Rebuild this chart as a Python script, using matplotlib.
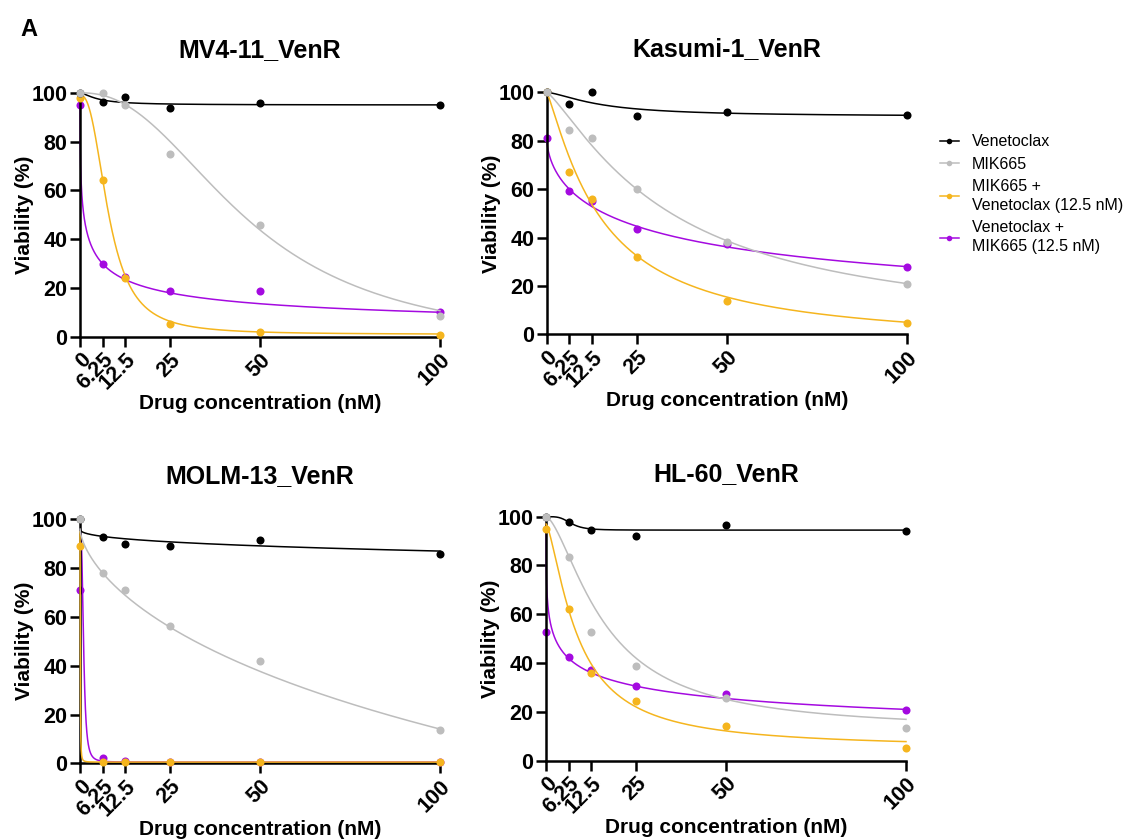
import numpy as np
import matplotlib
matplotlib.use("Agg")
import matplotlib.pyplot as plt
from matplotlib.lines import Line2D

plt.rcParams['font.family'] = ['Liberation Sans', 'DejaVu Sans']

# doses (nM)
doses = [0, 6.25, 12.5, 25, 50, 100]
dose_labels = ['0', '6.25', '12.5', '25', '50', '100']

series_names = ['Venetoclax', 'MIK665', 'MIK665 +\nVenetoclax (12.5 nM)', 'Venetoclax +\nMIK665 (12.5 nM)']
series_colors = ['#000000', '#BDBDBD', '#F5B51E', '#A40AE0']
series_z = [4, 5, 3, 2]

panels = ['MV4-11_VenR', 'Kasumi-1_VenR', 'MOLM-13_VenR', 'HL-60_VenR']

# viability (%) per panel, one list per series
mv4_ven = [100, 96.3, 98.1, 93.6, 95.9, 95.2]
mv4_mik = [100, 100, 95.2, 75.1, 45.9, 8.5]
mv4_mik_ven = [98.0, 64.4, 24.0, 5.2, 1.8, 0.7]
mv4_ven_mik = [95.2, 30.0, 24.5, 18.9, 18.9, 10.0]

kas_ven = [100, 95.2, 100, 90.4, 92.0, 90.6]
kas_mik = [100, 84.4, 81.0, 60.0, 38.3, 20.8]
kas_mik_ven = [100, 67.0, 56.1, 32.0, 13.8, 4.7]
kas_ven_mik = [81.3, 59.4, 55.0, 43.5, 37.2, 27.8]

molm_ven = [100, 92.6, 89.8, 89.1, 91.5, 85.7]
molm_mik = [100, 77.9, 71.0, 56.4, 41.8, 13.7]
molm_mik_ven = [89.1, 0.7, 0.6, 0.5, 0.5, 0.5]
molm_ven_mik = [71.0, 2.0, 0.8, 0.5, 0.5, 0.5]

hl_ven = [100, 98.0, 94.5, 92.2, 96.7, 94.1]
hl_mik = [100, 83.3, 52.6, 38.8, 25.5, 13.3]
hl_mik_ven = [94.8, 62.2, 35.8, 24.3, 14.2, 5.3]
hl_ven_mik = [52.6, 42.3, 37.0, 30.7, 27.5, 20.6]

data = [
    [mv4_ven, mv4_mik, mv4_mik_ven, mv4_ven_mik],
    [kas_ven, kas_mik, kas_mik_ven, kas_ven_mik],
    [molm_ven, molm_mik, molm_mik_ven, molm_ven_mik],
    [hl_ven, hl_mik, hl_mik_ven, hl_ven_mik],
]

# fitted dose-response parameters (top, bottom, EC50, hill) per series
fits = [
    [(100, 95, 5, 1.5), (100, -5, 47, 2.3), (99, 1, 8, 2.5), (95, 0, 1.29, 0.49)],
    [(100, 90, 15, 1.5), (100, 0, 34.6, 1.25), (100, -5, 15.3, 1.2), (81, 0, 35.1, 0.61)],
    [(96, 0, 22000, 0.42), (96, -200, 446, 0.642), (95, 0.5, 0.08, 2), (96, 0.5, 1.0, 3)],
    [(100, 94.5, 7, 4), (100, 12, 16.4, 1.56), (97, 5, 8.8, 1.42), (97, 0, 2.99, 0.366)],
]

positions = [
    [0.071, 0.599, 0.3194, 0.2905],
    [0.4851, 0.602, 0.3194, 0.288],
    [0.071, 0.0913, 0.3194, 0.2905],
    [0.4845, 0.0944, 0.3194, 0.2905],
]


def hill(x, top, bottom, ec50, h):
    return bottom + (top - bottom) / (1 + (x / ec50) ** h)


fig = plt.figure(figsize=(11.27, 8.4), dpi=100)
xs = np.linspace(0, 100, 2001)

for i, name in enumerate(panels):
    ax = fig.add_axes(positions[i])
    for s in range(4):
        p = fits[i][s]
        ax.plot(xs, hill(xs, *p), color=series_colors[s], lw=1.1,
                zorder=series_z[s], clip_on=False)
        ax.plot(doses, data[i][s], 'o', color=series_colors[s], ms=5.8,
                mec='none', zorder=series_z[s] + 0.5, clip_on=False)
    ax.set_xlim(0, 100)
    ax.set_ylim(0, 100)
    ax.set_xticks(doses)
    ax.set_xticklabels(dose_labels, rotation=45, ha='right', va='top',
                       rotation_mode='anchor')
    ax.set_yticks([0, 20, 40, 60, 80, 100])
    for side in ['top', 'right']:
        ax.spines[side].set_visible(False)
    for side in ['left', 'bottom']:
        ax.spines[side].set_linewidth(1.8)
    ax.tick_params(width=1.8, length=7, labelsize=15.5, pad=2)
    for lab in ax.get_xticklabels() + ax.get_yticklabels():
        lab.set_fontweight('bold')
    ax.set_title(name, fontsize=18, fontweight='bold', pad=26)
    ax.set_ylabel('Viability (%)', fontsize=15, fontweight='bold', labelpad=-2)
    ax.set_xlabel('Drug concentration (nM)', fontsize=15, fontweight='bold', labelpad=0)

fig.text(0.018, 0.965, 'A', fontsize=17, fontweight='bold', va='center')

handles = [Line2D([0], [0], color=c, lw=1.1, marker='o', ms=4, mec='none')
           for c in series_colors]
leg = fig.legend(handles, series_names, loc='upper left', bbox_to_anchor=(0.821, 0.857),
                 frameon=False, fontsize=11.5, handlelength=1.2, handletextpad=0.8,
                 labelspacing=0.45)
for t in leg.get_texts():
    t.set_linespacing(1.35)

fig.savefig('out.png', dpi=100)
